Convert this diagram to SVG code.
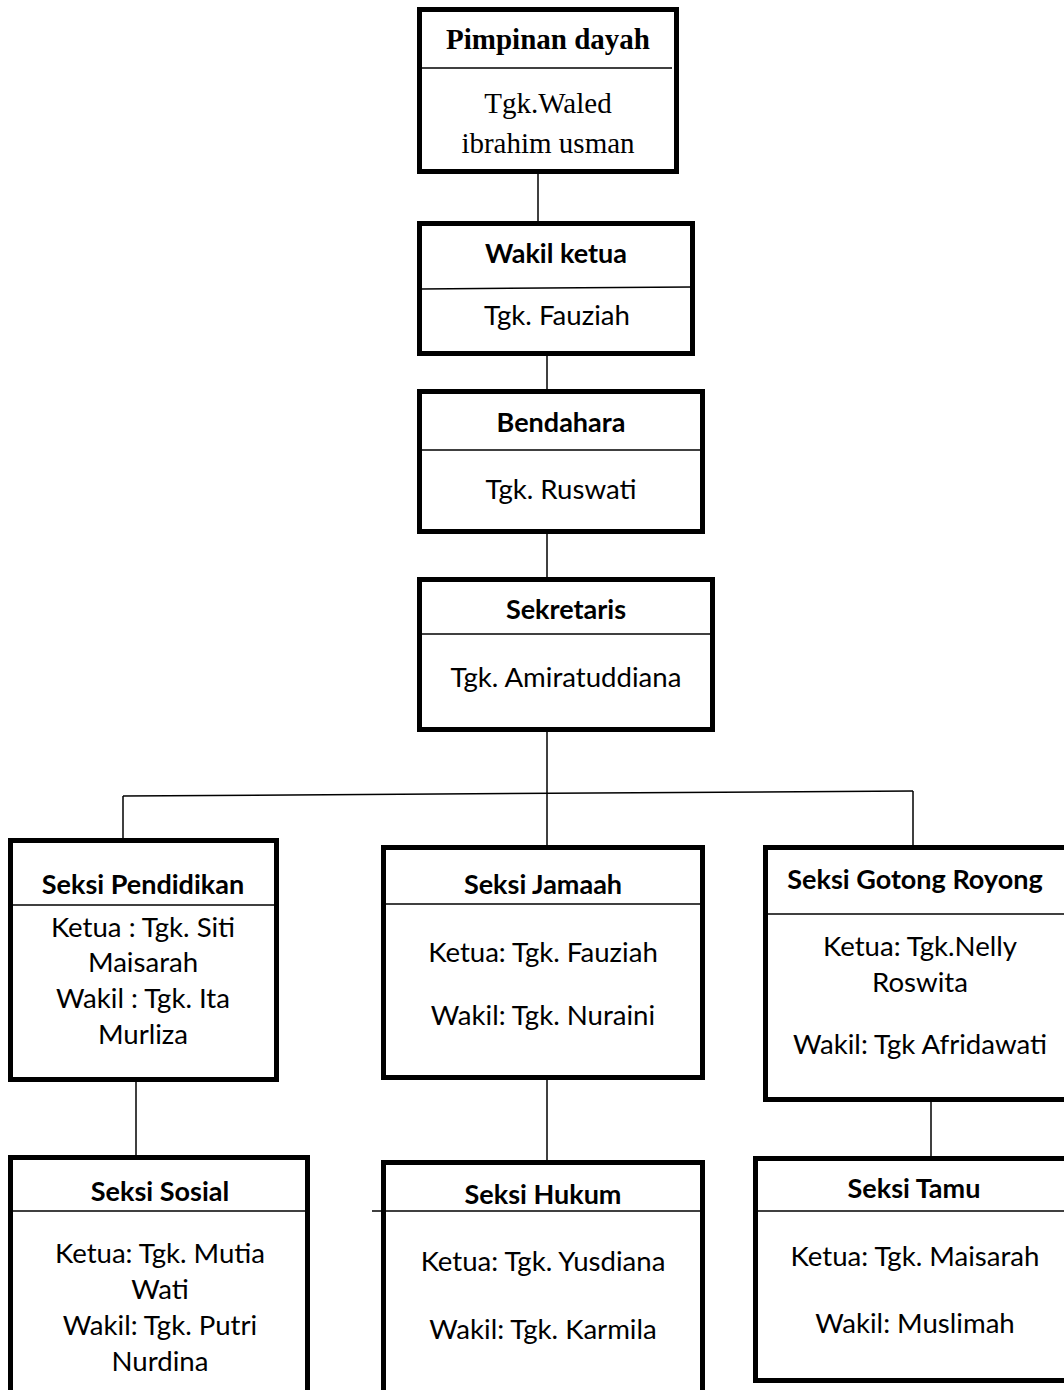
<svg xmlns="http://www.w3.org/2000/svg" width="1064" height="1390" viewBox="0 0 1064 1390">
<style>
.box{fill:#fff;stroke:#000;stroke-width:5}
.div{stroke:#000;stroke-width:1.5;fill:none}
.con{stroke:#000;stroke-width:1.5;fill:none}
.ts{font-family:"Liberation Serif","Times New Roman",serif;font-size:29px;text-anchor:middle;fill:#000}
.tb{font-weight:bold}
.c{font-family:Lato,"Liberation Sans",sans-serif;font-size:27.6px;text-anchor:middle;fill:#000}
.cb{font-weight:bold;font-size:27px}
</style>
<rect width="1064" height="1390" fill="#fff"/>
<g id="connectors">
<line class="con" x1="538" y1="172" x2="538" y2="223"/>
<line class="con" x1="547" y1="354" x2="547" y2="391"/>
<line class="con" x1="547" y1="521" x2="547" y2="579"/>
<line class="con" x1="547" y1="730" x2="547" y2="847"/>
<line class="con" x1="123" y1="796" x2="913" y2="791"/>
<line class="con" x1="123" y1="796" x2="123" y2="840"/>
<line class="con" x1="913" y1="791" x2="913" y2="847"/>
<line class="con" x1="136" y1="1080" x2="136" y2="1157"/>
<line class="con" x1="547" y1="1072" x2="547" y2="1162"/>
<line class="con" x1="931" y1="1098" x2="931" y2="1159"/>
</g>
<g id="pimpinan">
<rect class="box" x="419.5" y="9.5" width="257" height="162"/>
<line class="div" x1="421" y1="68" x2="672" y2="68"/>
<text class="ts tb" x="548" y="49">Pimpinan dayah</text>
<text class="ts" x="548" y="113">Tgk.Waled</text>
<text class="ts" x="548" y="153">ibrahim usman</text>
</g>
<g id="wakil-ketua">
<rect class="box" x="419.5" y="223.5" width="273" height="130"/>
<line class="div" x1="421" y1="289" x2="691" y2="287"/>
<text class="c cb" x="556" y="263">Wakil ketua</text>
<text class="c" x="557" y="325">Tgk. Fauziah</text>
</g>
<g id="bendahara">
<rect class="box" x="419.5" y="391.5" width="283" height="140"/>
<line class="div" x1="421" y1="450" x2="701" y2="450"/>
<text class="c cb" x="561" y="432">Bendahara</text>
<text class="c" x="561" y="499">Tgk. Ruswati</text>
</g>
<g id="sekretaris">
<rect class="box" x="419.5" y="579.5" width="293" height="150"/>
<line class="div" x1="421" y1="634" x2="711" y2="634"/>
<text class="c cb" x="566" y="619">Sekretaris</text>
<text class="c" x="566" y="687">Tgk. Amiratuddiana</text>
</g>
<g id="seksi-pendidikan">
<rect class="box" x="10.5" y="840.5" width="266" height="239"/>
<line class="div" x1="12" y1="905" x2="275" y2="905"/>
<text class="c cb" x="143" y="894">Seksi Pendidikan</text>
<text class="c" x="143" y="937">Ketua : Tgk. Siti</text>
<text class="c" x="143" y="972">Maisarah</text>
<text class="c" x="143" y="1008">Wakil : Tgk. Ita</text>
<text class="c" x="143" y="1044">Murliza</text>
</g>
<g id="seksi-jamaah">
<rect class="box" x="383.5" y="847.5" width="319" height="230"/>
<line class="div" x1="385" y1="904" x2="701" y2="904"/>
<text class="c cb" x="543" y="894">Seksi Jamaah</text>
<text class="c" x="543" y="962">Ketua: Tgk. Fauziah</text>
<text class="c" x="543" y="1025">Wakil: Tgk. Nuraini</text>
</g>
<g id="seksi-gotong-royong">
<rect class="box" x="765.5" y="847.5" width="320" height="252"/>
<line class="div" x1="767" y1="914" x2="1064" y2="914"/>
<text class="c cb" x="915" y="889">Seksi Gotong Royong</text>
<text class="c" x="920" y="956">Ketua: Tgk.Nelly</text>
<text class="c" x="920" y="992">Roswita</text>
<text class="c" x="920" y="1054">Wakil: Tgk Afridawati</text>
</g>
<g id="seksi-sosial">
<rect class="box" x="10.5" y="1157.5" width="297" height="260"/>
<line class="div" x1="12" y1="1211" x2="306" y2="1211"/>
<text class="c cb" x="160" y="1201">Seksi Sosial</text>
<text class="c" x="160" y="1263">Ketua: Tgk. Mutia</text>
<text class="c" x="160" y="1299">Wati</text>
<text class="c" x="160" y="1335">Wakil: Tgk. Putri</text>
<text class="c" x="160" y="1371">Nurdina</text>
</g>
<g id="seksi-hukum">
<rect class="box" x="383.5" y="1162.5" width="319" height="260"/>
<line class="div" x1="372" y1="1211" x2="701" y2="1211"/>
<text class="c cb" x="543" y="1204">Seksi Hukum</text>
<text class="c" x="543" y="1271">Ketua: Tgk. Yusdiana</text>
<text class="c" x="543" y="1339">Wakil: Tgk. Karmila</text>
</g>
<g id="seksi-tamu">
<rect class="box" x="755.5" y="1158.5" width="330" height="222"/>
<line class="div" x1="757" y1="1211" x2="1064" y2="1211"/>
<text class="c cb" x="914" y="1198">Seksi Tamu</text>
<text class="c" x="915" y="1266">Ketua: Tgk. Maisarah</text>
<text class="c" x="915" y="1333">Wakil: Muslimah</text>
</g>
</svg>
